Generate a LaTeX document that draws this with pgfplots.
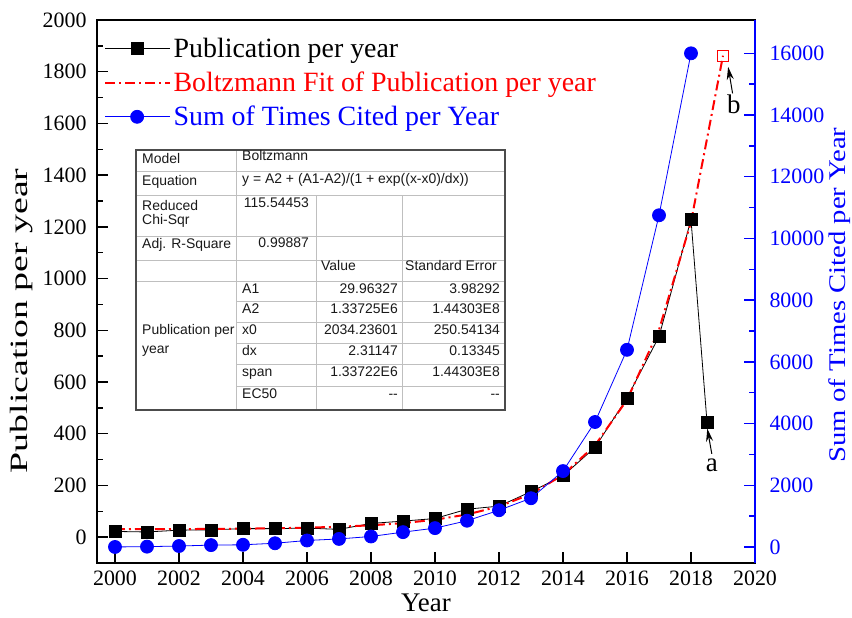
\documentclass[border=0pt]{standalone}
\usepackage{pgfplots}
\pgfplotsset{compat=1.18}
\usepackage{graphicx}
\usepackage{fontspec}
\setmainfont{Liberation Serif}
\newfontfamily\tickfont{Liberation Serif}
\newfontfamily\tabfont{Liberation Sans}
\usetikzlibrary{arrows.meta}

\pgfplotsset{
  baseAxis/.style={
    at={(0,0)}, anchor=south west,
    scale only axis, width=658bp, height=543bp,
    xmin=1999.4375, xmax=2020,
    tick align=inside,
    major tick length=11bp, minor tick length=6bp,
    tick label style={font=\tickfont\fontsize{22}{26}\selectfont},
    /pgf/number format/assume math mode=true,
    /pgf/number format/1000 sep={},
    xticklabel={\tickfont\pgfmathprintnumber{\tick}},
    yticklabel={\tickfont\pgfmathprintnumber{\tick}},
    scaled ticks=false,
  },
}

\begin{document}
\begin{tikzpicture}
\begin{axis}[
  baseAxis,
  ymin=-100, ymax=2000,
  xtick={2000,2002,...,2020}, minor x tick num=1,
  ytick={0,200,...,2000}, minor y tick num=1,
  xtick pos=bottom, ytick pos=left,
  yticklabel style={xshift=-7bp},
  xticklabel style={yshift=-4bp},
  axis line style={line width=1.6bp},
  tick style={line width=1.4bp, black},
  xlabel={Year},
  ylabel={\scalebox{1.52}[1]{Publication per year}},
  label style={font=\fontsize{25}{30}\selectfont},
  xlabel style={font=\fontsize{27}{30}\selectfont, inner sep=0pt,
    at={(axis description cs:0.5,-0.0737)}, anchor=center},
  ylabel style={at={(axis description cs:-0.114,0.4457)}, anchor=center},
  legend style={at={(axis description cs:0.006,0.975)}, anchor=north west,
    draw=none, fill=none, font=\fontsize{28}{32}\selectfont,
    row sep=8bp, nodes={inner sep=2.5bp}},
  legend cell align=left,
  legend image code/.code={\draw[mark repeat=2,mark phase=2,#1]
    plot coordinates {(0bp,0bp) (32bp,0bp) (65bp,0bp)};},
]
\addplot[black, line width=0.8bp, mark=square*, mark size=6bp,
  mark options={solid}] coordinates {
  (2000,22) (2001,20) (2002,27) (2003,28) (2004,33) (2005,33) (2006,35)
  (2007,30) (2008,53) (2009,62) (2010,72) (2011,108) (2012,120) (2013,176)
  (2014,237) (2015,347) (2016,538) (2017,776) (2018,1228) (2018.5,445)
};
\addlegendentry{Publication per year}
\addplot[red, line width=2bp, dash pattern=on 10bp off 4bp on 2bp off 4bp] coordinates {
  (2000,30.5) (2001,30.7) (2002,31.1) (2003,31.8) (2004,32.8) (2005,34.3)
  (2006,36.6) (2007,40.2) (2008,45.7) (2009,54.2) (2010,67.3) (2011,87.6)
  (2012,118.7) (2013,166.8) (2014,240.8) (2015,354.9) (2016,530.8)
  (2017,801.8) (2018,1219.1) (2019,1862.0)
};
\addlegendentry{\textcolor{red}{Boltzmann Fit of Publication per year}}
\addplot[red, line width=1bp, only marks, mark=square, mark size=5.5bp, forget plot]
  coordinates {(2019,1862.0)};
\addlegendimage{blue, line width=0.8bp, mark=*, mark size=6.5bp}
\addlegendentry{\textcolor{blue}{Sum of Times Cited per Year}}
% annotations a and b
\draw[-{Stealth[length=13bp,width=7bp]}, line width=1bp]
  (axis cs:2018.65,322) -- (axis cs:2018.51,420);
\node[font=\fontsize{27}{32}\selectfont] at (axis cs:2018.65,279) {a};
\draw[-{Stealth[length=13bp,width=7bp]}, line width=1bp]
  (axis cs:2019.30,1716) -- (axis cs:2019.16,1819);
\node[font=\fontsize{27}{32}\selectfont] at (axis cs:2019.34,1675) {b};
\end{axis}

\begin{axis}[
  baseAxis,
  ymin=-520, ymax=17080,
  axis x line=none, axis y line*=right,
  ytick={0,2000,...,16000}, minor y tick num=1,
  y axis line style={blue, line width=1.6bp},
  ytick style={blue, line width=1.4bp},
  yticklabel style={blue, xshift=11bp},
  ylabel={\scalebox{1.2}[1]{Sum of Times Cited per Year}},
  ylabel style={blue, font=\fontsize{24}{28}\selectfont,
    at={(axis description cs:1.129,0.4936)}, anchor=center},
]
\addplot[blue, line width=0.8bp, mark=*, mark size=6.5bp] coordinates {
  (2000,0) (2001,10) (2002,30) (2003,60) (2004,70) (2005,120) (2006,210)
  (2007,260) (2008,340) (2009,480) (2010,610) (2011,850) (2012,1190)
  (2013,1580) (2014,2460) (2015,4050) (2016,6390) (2017,10750) (2018,16000)
};
\end{axis}

% fit-results table
\begin{scope}[font=\tabfont\fontsize{14}{17}\selectfont, text=black!90]
\fill[white] (39bp,153bp) rectangle (408bp,413bp);
\draw[black!25, line width=0.8bp]
  (39bp,392bp) -- (408bp,392bp)
  (39bp,368bp) -- (408bp,368bp)
  (39bp,327bp) -- (408bp,327bp)
  (39bp,303bp) -- (408bp,303bp)
  (39bp,282bp) -- (408bp,282bp)
  (139bp,262bp) -- (408bp,262bp)
  (139bp,241bp) -- (408bp,241bp)
  (139bp,220bp) -- (408bp,220bp)
  (139bp,199bp) -- (408bp,199bp)
  (139bp,177bp) -- (408bp,177bp)
  (139bp,153bp) -- (139bp,413bp)
  (219bp,153bp) -- (219bp,368bp)
  (305bp,153bp) -- (305bp,368bp);
\draw[black!70, line width=1.4bp] (39bp,153bp) rectangle (408bp,413bp);
\tikzset{lt/.style={anchor=mid west, inner sep=0pt}, rt/.style={anchor=mid east, inner sep=0pt}}
\node[lt] at (45bp,402bp) {Model};
\node[lt] at (145bp,405bp) {Boltzmann};
\node[lt] at (45bp,380bp) {Equation};
\node[lt] at (145bp,382bp) {y = A2 + (A1-A2)/(1 + exp((x-x0)/dx))};
\node[lt] at (45bp,355bp) {Reduced};
\node[lt] at (45bp,341bp) {Chi-Sqr};
\node[rt] at (212bp,358bp) {115.54453};
\node[lt] at (45bp,317bp) {Adj. R-Square};
\node[rt] at (212bp,318bp) {0.99887};
\node[lt] at (224bp,295bp) {Value};
\node[lt] at (308bp,295bp) {Standard Error};
\node[lt] at (45bp,231bp) {Publication per};
\node[lt] at (45bp,212bp) {year};
\node[lt] at (145bp,272bp) {A1};
\node[rt] at (301bp,272bp) {29.96327};
\node[rt] at (403bp,272bp) {3.98292};
\node[lt] at (145bp,252bp) {A2};
\node[rt] at (301bp,252bp) {1.33725E6};
\node[rt] at (403bp,252bp) {1.44303E8};
\node[lt] at (145bp,231bp) {x0};
\node[rt] at (301bp,231bp) {2034.23601};
\node[rt] at (403bp,231bp) {250.54134};
\node[lt] at (145bp,210bp) {dx};
\node[rt] at (301bp,210bp) {2.31147};
\node[rt] at (403bp,210bp) {0.13345};
\node[lt] at (145bp,189bp) {span};
\node[rt] at (301bp,189bp) {1.33722E6};
\node[rt] at (403bp,189bp) {1.44303E8};
\node[lt] at (145bp,167bp) {EC50};
\node[rt] at (301bp,167bp) {{-}{-}};
\node[rt] at (403bp,167bp) {{-}{-}};
\end{scope}

\pgfresetboundingbox
\useasboundingbox (-97bp,-55bp) rectangle (755bp,563bp);
\end{tikzpicture}
\end{document}
